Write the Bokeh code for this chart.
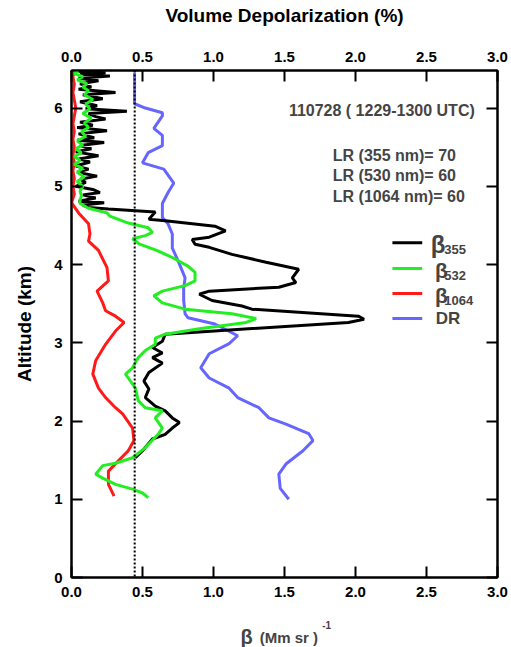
from bokeh.plotting import figure
from bokeh.layouts import column
from bokeh.models import (LinearAxis, Range1d, FixedTicker, Span, Label,
                          ColumnDataSource, PrintfTickFormatter, CustomJSTickFormatter)
from bokeh.embed import file_html
from bokeh.resources import INLINE

# ---------------- data ----------------
X_TICKS = [0.0, 0.5, 1.0, 1.5, 2.0, 2.5, 3.0]
Y_TICKS = [0, 1, 2, 3, 4, 5, 6]
DR_THRESHOLD = 0.445

b355_alt = [6.47, 6.45, 6.43, 6.41, 6.38, 6.35, 6.31, 6.27, 6.24, 6.20, 6.17, 6.12, 6.08, 6.03,
            5.99, 5.96, 5.93, 5.89, 5.86, 5.82, 5.78, 5.75, 5.71, 5.67, 5.62, 5.59, 5.56, 5.52,
            5.48, 5.44, 5.39, 5.35, 5.31, 5.26, 5.22, 5.18, 5.13, 5.09, 5.05, 5.00, 4.96, 4.92,
            4.89, 4.85, 4.81, 4.79, 4.76, 4.73, 4.71, 4.67, 4.58, 4.56, 4.49, 4.43, 4.35, 4.32,
            4.26, 4.22, 4.13, 4.03, 3.94, 3.83, 3.77, 3.71, 3.66, 3.62, 3.54, 3.47, 3.43, 3.34,
            3.30, 3.26, 3.11, 3.02, 2.94, 2.87, 2.81, 2.74, 2.62, 2.51, 2.41, 2.30, 2.19, 2.13,
            2.04, 1.98, 1.91, 1.83, 1.77, 1.62, 1.53]
b355_val = [0.03, 0.24, 0.06, 0.27, 0.05, 0.19, 0.06, 0.14, 0.05, 0.31, 0.08, 0.22, 0.06, 0.18,
            0.10, 0.39, 0.12, 0.17, 0.24, 0.06, 0.15, 0.04, 0.25, 0.05, 0.16, 0.04, 0.23, 0.06,
            0.14, 0.03, 0.19, 0.05, 0.13, 0.03, 0.12, 0.04, 0.18, 0.06, 0.10, 0.03, 0.15, 0.20,
            0.08, 0.17, 0.05, 0.23, 0.08, 0.12, 0.26, 0.59, 0.545, 0.66, 1.01, 1.085, 0.97, 0.85,
            0.87, 0.97, 1.13, 1.37, 1.60, 1.555, 1.58, 1.46, 0.97, 0.90, 0.99, 1.20, 1.27, 2.02,
            2.06, 1.95, 0.66, 0.64, 0.57, 0.64, 0.57, 0.64, 0.545, 0.51, 0.545, 0.52, 0.59, 0.66,
            0.71, 0.76, 0.71, 0.66, 0.57, 0.50, 0.45]

b532_alt = [6.47, 6.44, 6.40, 6.36, 6.31, 6.27, 6.22, 6.17, 6.11, 6.05, 5.99, 5.93, 5.87, 5.81,
            5.75, 5.70, 5.64, 5.58, 5.53, 5.48, 5.43, 5.38, 5.33, 5.28, 5.23, 5.18, 5.12, 5.06,
            5.00, 4.94, 4.88, 4.82, 4.78, 4.72, 4.66, 4.62, 4.53, 4.47, 4.41, 4.37, 4.33, 4.26,
            4.18, 4.09, 3.98, 3.90, 3.79, 3.73, 3.66, 3.60, 3.51, 3.43, 3.37, 3.31, 3.26, 3.18,
            3.11, 3.06, 2.98, 2.90, 2.81, 2.68, 2.60, 2.55, 2.42, 2.26, 2.17, 2.13, 2.04, 1.91,
            1.83, 1.66, 1.53, 1.46, 1.43, 1.32, 1.27, 1.19, 1.13, 1.08, 1.02]
b532_val = [0.05, 0.02, 0.08, 0.04, 0.11, 0.08, 0.12, 0.09, 0.15, 0.10, 0.13, 0.08, 0.14, 0.09,
            0.12, 0.07, 0.10, 0.04, 0.08, 0.03, 0.07, 0.02, 0.06, 0.02, 0.08, 0.04, 0.09, 0.04,
            0.08, 0.06, 0.07, 0.06, 0.06, 0.12, 0.25, 0.27, 0.40, 0.54, 0.57, 0.52, 0.43, 0.48,
            0.60, 0.71, 0.82, 0.87, 0.87, 0.80, 0.64, 0.58, 0.64, 0.80, 1.13, 1.30, 1.23, 0.90,
            0.66, 0.59, 0.59, 0.52, 0.47, 0.43, 0.38, 0.40, 0.45, 0.47, 0.52, 0.64, 0.59, 0.64,
            0.61, 0.52, 0.43, 0.31, 0.22, 0.17, 0.22, 0.31, 0.43, 0.50, 0.54]

b1064_alt = [6.47, 6.40, 6.30, 6.20, 6.10, 6.00, 5.90, 5.80, 5.70, 5.60, 5.50, 5.40, 5.30, 5.20,
             5.10, 5.00, 4.90, 4.79, 4.66, 4.52, 4.39, 4.30, 4.18, 3.96, 3.79, 3.66, 3.51, 3.41,
             3.34, 3.26, 3.15, 2.98, 2.77, 2.60, 2.42, 2.30, 2.17, 2.09, 1.91, 1.75, 1.62, 1.49,
             1.36, 1.19, 1.04]
b1064_val = [0.02, 0.01, 0.02, 0.01, 0.02, 0.03, 0.02, 0.01, 0.02, 0.01, 0.02, 0.01, 0.02, 0.01,
             0.02, 0.01, 0.02, 0.00, 0.05, 0.12, 0.13, 0.12, 0.19, 0.25, 0.26, 0.18, 0.22, 0.24,
             0.31, 0.37, 0.31, 0.24, 0.17, 0.15, 0.19, 0.24, 0.31, 0.36, 0.43, 0.44, 0.40, 0.33,
             0.26, 0.26, 0.30]

dr_alt = [6.45, 6.055, 6.00, 5.94, 5.90, 5.74, 5.65, 5.52, 5.43, 5.30, 5.22, 5.04, 4.92, 4.78,
          4.60, 4.52, 4.39, 4.21, 4.05, 3.83, 3.70, 3.54, 3.37, 3.32, 3.24, 3.09, 2.99, 2.86,
          2.68, 2.55, 2.42, 2.30, 2.17, 2.04, 1.96, 1.84, 1.75, 1.62, 1.45, 1.32, 1.14, 1.00]
dr_val = [0.444, 0.444, 0.52, 0.64, 0.64, 0.58, 0.64, 0.64, 0.54, 0.50, 0.65, 0.72, 0.68, 0.64,
          0.64, 0.68, 0.71, 0.71, 0.75, 0.80, 0.79, 0.79, 0.80, 0.82, 1.01, 1.17, 1.11, 0.97,
          0.91, 0.97, 1.11, 1.17, 1.32, 1.39, 1.51, 1.67, 1.70, 1.63, 1.51, 1.46, 1.47, 1.53]

SERIES = [  # name, alt, values, colour, legend subscript
    ("DR", dr_alt, dr_val, "#6666ff", None),
    ("b1064", b1064_alt, b1064_val, "#ff1a1a", "1064"),
    ("b355", b355_alt, b355_val, "#000000", "355"),
    ("b532", b532_alt, b532_val, "#22ee22", "532"),
]

DATE_TEXT = "110728 ( 1229-1300 UTC)"
LR_TEXTS = ["LR (355 nm)= 70", "LR (530 nm)= 60", "LR (1064 nm)= 60"]
X_TITLE = ["β", "(Mm sr )", "-1"]

FONT = "Liberation Sans"

# ---------------- main figure ----------------
p = figure(width=511, height=612, x_range=Range1d(0, 3.0), y_range=Range1d(0, 6.48),
           output_backend="svg", toolbar_location=None,
           min_border_left=71, min_border_right=14, min_border_top=70, min_border_bottom=35)
p.xgrid.visible = False
p.ygrid.visible = False
p.outline_line_color = "black"
p.outline_line_width = 2
p.background_fill_color = "white"
p.border_fill_color = "white"

p.xaxis.ticker = FixedTicker(ticks=X_TICKS)
p.xaxis.formatter = PrintfTickFormatter(format="%.1f")
p.yaxis.ticker = FixedTicker(ticks=Y_TICKS)

top = LinearAxis(ticker=FixedTicker(ticks=X_TICKS), formatter=PrintfTickFormatter(format="%.1f"),
                 axis_label="Volume Depolarization (%)")
p.add_layout(top, "above")
right = LinearAxis(ticker=FixedTicker(ticks=Y_TICKS),
                   formatter=CustomJSTickFormatter(code="return ''"))
p.add_layout(right, "right")

p.yaxis[0].axis_label = "Altitude (km)"

for ax in p.axis:
    ax.major_tick_in = 11
    ax.major_tick_out = 0
    ax.minor_tick_in = 0
    ax.minor_tick_out = 0
    ax.axis_line_width = 2
    ax.major_tick_line_width = 2
    ax.major_label_text_font = FONT
    ax.major_label_text_font_style = "bold"
    ax.major_label_text_font_size = "15px"
    ax.major_label_text_color = "black"
    ax.axis_label_text_font = FONT
    ax.axis_label_text_font_style = "bold"
    ax.axis_label_text_font_size = "19px"
    ax.axis_label_text_color = "black"
    ax.major_label_standoff = 9
top.axis_label_standoff = 23
p.yaxis[0].axis_label_standoff = 16

# dotted threshold line
p.add_layout(Span(location=DR_THRESHOLD, dimension="height", line_color="black",
                  line_dash="2 2", line_width=2))

for name, alt, val, col, _ in SERIES:
    src = ColumnDataSource(dict(x=val, y=alt))
    p.line("x", "y", source=src, line_color=col, line_width=3)

# annotations
p.add_layout(Label(x=2.84, y=5.97, text=DATE_TEXT, text_align="right", text_baseline="middle",
                   text_font=FONT, text_font_style="bold", text_font_size="16px"))
for i, t_ in enumerate(LR_TEXTS):
    p.add_layout(Label(x=1.84, y=[5.40, 5.14, 4.87][i], text=t_, text_baseline="middle",
                       text_font=FONT, text_font_style="bold", text_font_size="16px"))

# legend (manual)
LEG_Y = {"b355": 4.28, "b532": 3.95, "b1064": 3.63, "DR": 3.31}
for name, alt, val, col, sub in SERIES:
    yy = LEG_Y[name]
    p.line([2.26, 2.47], [yy, yy], line_color=col, line_width=3)
    if sub is None:
        p.add_layout(Label(x=2.565, y=yy, text=name, text_baseline="middle",
                           text_font=FONT, text_font_style="bold", text_font_size="17px"))
    else:
        big = name == "b355"
        p.add_layout(Label(x=2.53 if big else 2.56, y=yy - 0.03, text="β", text_baseline="middle",
                           text_font=FONT, text_font_style="bold",
                           text_font_size="24px" if big else "21px"))
        p.add_layout(Label(x=2.625, y=yy - 0.09, text=sub, text_baseline="middle",
                           text_font=FONT, text_font_style="bold", text_font_size="13px"))

# ---------------- strip below holding the bottom axis title ----------------
t = figure(width=511, height=35, x_range=p.x_range, y_range=Range1d(0, 35),
           output_backend="svg", toolbar_location=None,
           x_axis_location=None, y_axis_location=None,
           min_border_left=71, min_border_right=14, min_border_top=0, min_border_bottom=0)
t.xgrid.visible = False
t.ygrid.visible = False
t.outline_line_color = None
t.border_fill_color = "white"
t.add_layout(Label(x=1.19, y=11, text=X_TITLE[0], text_baseline="middle", text_font=FONT,
                   text_font_style="bold", text_font_size="20px"))
t.add_layout(Label(x=1.325, y=10, text=X_TITLE[1], text_baseline="middle", text_font=FONT,
                   text_font_style="bold", text_font_size="15px"))
t.add_layout(Label(x=1.765, y=23, text=X_TITLE[2], text_baseline="middle", text_font=FONT,
                   text_font_style="bold", text_font_size="10px"))

layout = column(p, t, spacing=0)
open("out.html", "w").write(file_html(layout, INLINE))
